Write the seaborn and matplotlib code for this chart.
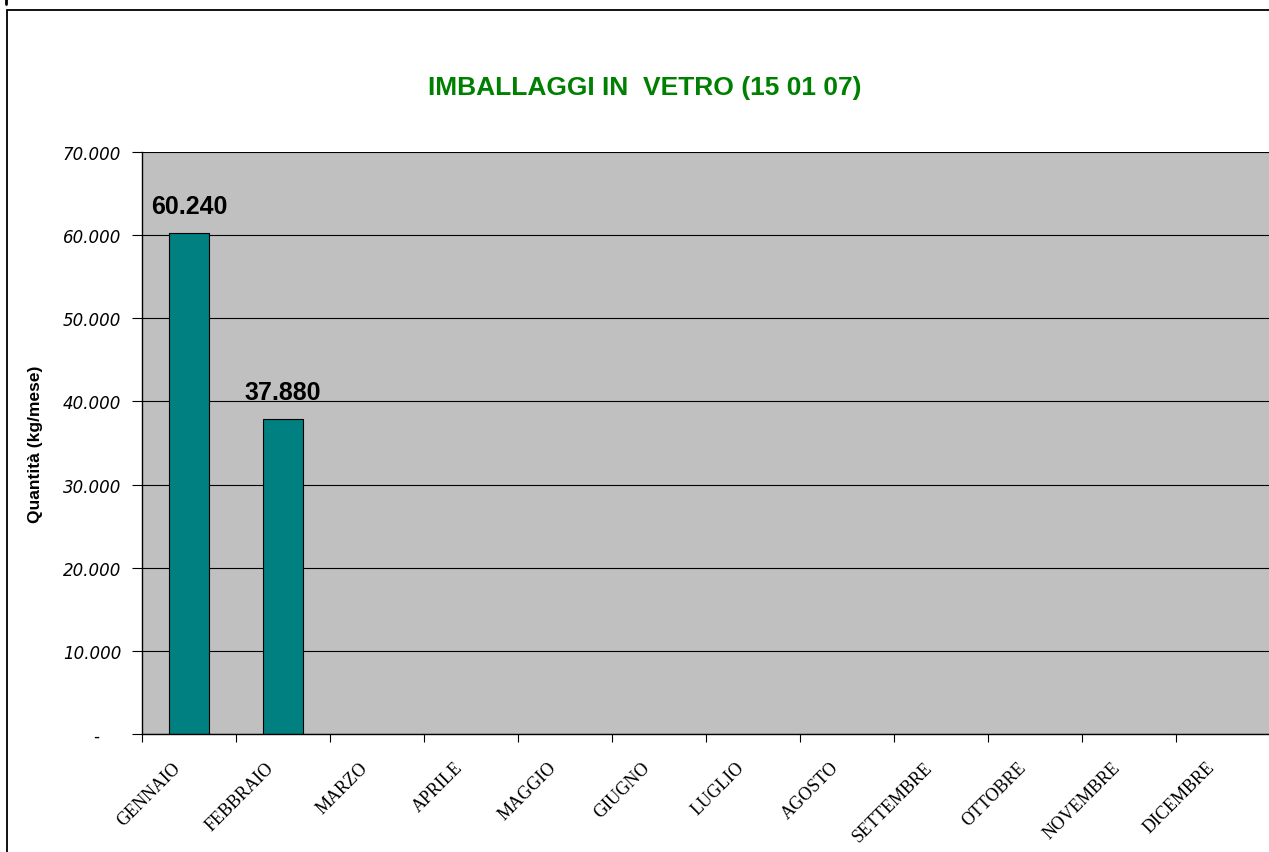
import numpy as np
import pandas as pd
import seaborn as sns
import matplotlib.pyplot as plt
from matplotlib.lines import Line2D
from matplotlib.patches import Rectangle

# data
months = ["GENNAIO", "FEBBRAIO", "MARZO", "APRILE", "MAGGIO", "GIUGNO",
          "LUGLIO", "AGOSTO", "SETTEMBRE", "OTTOBRE", "NOVEMBRE", "DICEMBRE"]
months_with_data = ["GENNAIO", "FEBBRAIO"]
quantities = [60240, 37880]
y_ticks = [0, 10000, 20000, 30000, 40000, 50000, 60000, 70000]
y_tick_labels = ["-    ", "10.000", "20.000", "30.000", "40.000", "50.000", "60.000", "70.000"]
title = "IMBALLAGGI IN  VETRO (15 01 07)"
y_label = "Quantità (kg/mese)"

df = pd.DataFrame({"mese": months_with_data, "kg": quantities})

sns.set_style("white", {"text.color": "black", "axes.labelcolor": "black",
                        "xtick.color": "black", "ytick.color": "black"})
plt.rcParams["font.family"] = ["Liberation Sans", "DejaVu Sans"]

W, H = 1269, 853
fig = plt.figure(figsize=(W / 100, H / 100), dpi=100)

# outer chart border (clipped at right and bottom like the original)
fig.patches.append(Rectangle((7 / W, -0.05), 1.1, 1 - 11 / H + 0.05,
                             transform=fig.transFigure, fill=False,
                             edgecolor="black", linewidth=1.3))
fig.lines.append(Line2D([5.5 / W, 5.5 / W], [1, 1 - 5 / H],
                        transform=fig.transFigure, color="black", linewidth=2))

left, right = 142 / W, 1270 / W
bottom, top = 1 - 735 / H, 1 - 153 / H
ax = fig.add_axes([left, bottom, right - left, top - bottom])
ax.set_facecolor("#C0C0C0")

sns.barplot(data=df, x="mese", y="kg", order=months, color="#008080",
            saturation=1, width=0.42, edgecolor="black", linewidth=0.8, ax=ax)

ax.bar_label(ax.containers[0],
             labels=[f"{v:,}".replace(",", ".") for v in quantities],
             padding=11, fontsize=18, fontweight="bold",
             fontfamily="Liberation Sans", color="black")

ax.set_ylim(0, 70000)
ax.set_xlim(-0.5, len(months) - 0.5)
ax.set_yticks(y_ticks)
ax.set_yticklabels(y_tick_labels, fontfamily="DejaVu Sans", fontstyle="italic",
                   fontsize=12)
ax.yaxis.grid(True, color="black", linewidth=0.8)
ax.set_axisbelow(True)
ax.tick_params(axis="y", left=True, length=7, width=0.8, pad=8, color="black")

# month labels sit a little left of the category centre, as in the original
ax.set_xticks(np.arange(len(months)) - 0.12)
ax.set_xticklabels(months, rotation=45, ha="right", va="center",
                   rotation_mode="anchor", fontfamily="Liberation Serif",
                   fontsize=13)
ax.tick_params(axis="x", which="major", length=0, pad=22)
ax.set_xticks(np.arange(len(months) + 1) - 0.5, minor=True)
ax.tick_params(axis="x", which="minor", bottom=True, length=6, width=0.8,
               color="black")

for s in ["top", "right"]:
    ax.spines[s].set_visible(False)
for s in ["left", "bottom"]:
    ax.spines[s].set_color("black")
    ax.spines[s].set_linewidth(1)

ax.set_xlabel("")
ax.set_ylabel(y_label, fontsize=12.5, fontweight="bold", labelpad=14)

fig.text(645 / W, 1 - 88 / H, title, color="#008000", fontsize=19,
         fontweight="bold", ha="center", va="center")

fig.savefig("out.png", dpi=100)
